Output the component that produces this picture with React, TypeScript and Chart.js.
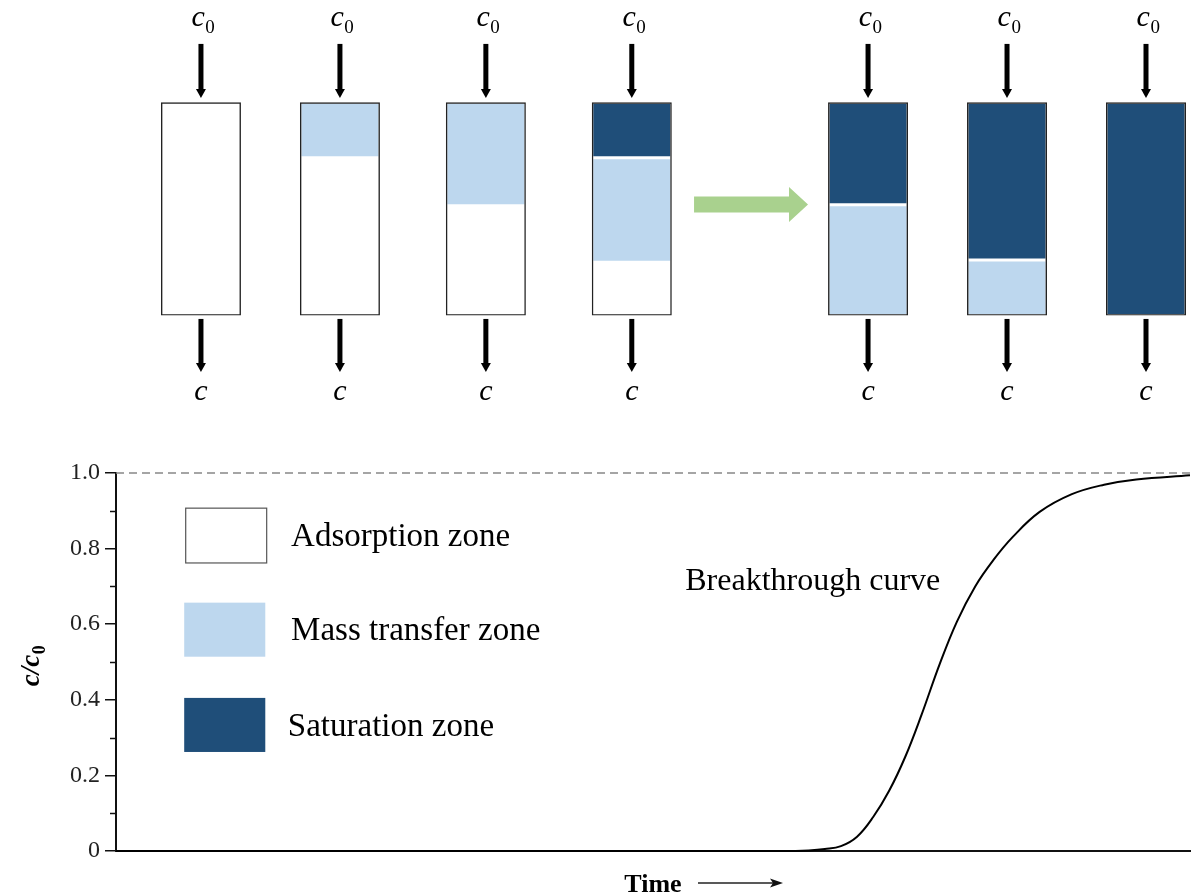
import React, { useEffect, useRef } from "react";
import { Chart, registerables } from "chart.js";

Chart.register(...registerables);

// ---------- data ----------
// column schematic (depth from column top as a fraction of column length)
const columnPositions = [1, 2, 3.05, 4.1, 5.8, 6.8, 7.8];
const saturationDepth = [0, 0, 0, 0.26, 0.48, 0.74, 1];
const transferDepth = [0, 0.26, 0.485, 0.75, 1, 1, 1];
const inletLabel = ["c", "0"];
const outletLabel = "c";

// breakthrough curve
const timeValues = [0, 62, 64.5, 66, 67.5, 69, 70.5, 72, 73.5, 75, 76.7, 78.3, 80, 81.7, 83.5, 86, 89, 92, 95, 100];
const ratioValues = [0, 0, 0.0015, 0.005, 0.013, 0.038, 0.09, 0.16, 0.25, 0.36, 0.495, 0.607, 0.7, 0.77, 0.831, 0.897, 0.944, 0.969, 0.983, 0.994];
const yTickLabels = ["0", "0.2", "0.4", "0.6", "0.8", "1.0"];
const legendLabels = ["Adsorption zone", "Mass transfer zone", "Saturation zone"];
const curveLabel = "Breakthrough curve";
const xTitle = "Time";

// ---------- styles ----------
const SERIF = '"Liberation Serif", "Times New Roman", serif';
const LIGHT = "#BDD7EE";
const DARK = "#1F4E79";
const GREEN = "#A9D18E";
const INK = "#111111";

function drawSub(ctx: CanvasRenderingContext2D, cx: number, baseline: number, main: string, sub: string, mainFont: string, subFont: string, drop: number) {
  ctx.font = mainFont;
  const w1 = ctx.measureText(main).width;
  ctx.font = subFont;
  const w2 = ctx.measureText(sub).width;
  const x0 = cx - (w1 + w2) / 2;
  ctx.textAlign = "left";
  ctx.textBaseline = "alphabetic";
  ctx.font = mainFont;
  ctx.fillText(main, x0, baseline);
  ctx.font = subFont;
  ctx.fillText(sub, x0 + w1 + 0.5, baseline + drop);
}

function downArrow(ctx: CanvasRenderingContext2D, x: number, y0: number, y1: number) {
  const head = 9;
  const half = 5;
  ctx.fillStyle = "#000";
  ctx.fillRect(x - 2.5, y0, 5, y1 - y0 - head + 1);
  ctx.beginPath();
  ctx.moveTo(x - half, y1 - head);
  ctx.lineTo(x + half, y1 - head);
  ctx.lineTo(x, y1);
  ctx.closePath();
  ctx.fill();
}

const topPlugin = {
  id: "columnDecor",
  afterDatasetsDraw(chart: any) {
    const ctx: CanvasRenderingContext2D = chart.ctx;
    const xs = chart.scales.x;
    const ys = chart.scales.y;
    ctx.save();
    columnPositions.forEach((p) => {
      const x = xs.getPixelForValue(p);
      downArrow(ctx, x, ys.getPixelForValue(-0.274), ys.getPixelForValue(-0.02));
      downArrow(ctx, x, ys.getPixelForValue(1.016), ys.getPixelForValue(1.265));
      ctx.fillStyle = "#000";
      drawSub(ctx, x + 2, ys.getPixelForValue(-0.358), inletLabel[0], inletLabel[1], `italic 30px ${SERIF}`, `19px ${SERIF}`, 7);
      ctx.font = `italic 30px ${SERIF}`;
      ctx.textAlign = "center";
      ctx.textBaseline = "alphabetic";
      ctx.fillText(outletLabel, x, ys.getPixelForValue(1.396));
    });
    // green process arrow
    const ax0 = xs.getPixelForValue(4.548);
    const ax1 = xs.getPixelForValue(5.368);
    const ay = ys.getPixelForValue(0.479);
    const headLen = 19;
    ctx.fillStyle = GREEN;
    ctx.beginPath();
    ctx.moveTo(ax0, ay - 8);
    ctx.lineTo(ax1 - headLen, ay - 8);
    ctx.lineTo(ax1 - headLen, ay - 17.5);
    ctx.lineTo(ax1, ay);
    ctx.lineTo(ax1 - headLen, ay + 17.5);
    ctx.lineTo(ax1 - headLen, ay + 8);
    ctx.lineTo(ax0, ay + 8);
    ctx.closePath();
    ctx.fill();
    ctx.restore();
  },
};

function topConfig(): any {
  const outline = columnPositions.map((x) => ({ x, y: [0, 1] }));
  const saturation = columnPositions
    .map((x, i) => ({ x, y: [0, saturationDepth[i]] }))
    .filter((d) => d.y[1] > d.y[0]);
  const transfer = columnPositions
    .map((x, i) => ({ x, y: [saturationDepth[i], transferDepth[i]] }))
    .filter((d) => d.y[1] > d.y[0]);
  const common = { grouped: false, maxBarThickness: 80, borderSkipped: false };
  return {
    type: "bar",
    data: {
      datasets: [
        { ...common, label: "column", data: outline, backgroundColor: "rgba(0,0,0,0)", borderColor: "#222", borderWidth: 1.4, order: 0 },
        { ...common, label: "Saturation zone", data: saturation, backgroundColor: DARK, borderColor: "#fff", borderWidth: 1.5, order: 1 },
        { ...common, label: "Mass transfer zone", data: transfer, backgroundColor: LIGHT, borderColor: "#fff", borderWidth: 1.5, order: 1 },
      ],
    },
    options: {
      responsive: false,
      animation: false,
      layout: { padding: 0 },
      plugins: { legend: { display: false }, tooltip: { enabled: false } },
      scales: {
        x: { type: "linear", offset: false, min: -0.446, max: 8.131, display: false },
        y: { type: "linear", reverse: true, min: -0.48, max: 1.49, display: false },
      },
    },
    plugins: [topPlugin],
  };
}

const bottomPlugin = {
  id: "plotDecor",
  afterDraw(chart: any) {
    const ctx: CanvasRenderingContext2D = chart.ctx;
    const xs = chart.scales.x;
    const ys = chart.scales.y;
    const area = chart.chartArea;
    ctx.save();
    // minor ticks
    ctx.strokeStyle = INK;
    ctx.lineWidth = 1.5;
    ys.ticks.forEach((t: any, i: number) => {
      if (i % 2 === 1) {
        const y = Math.round(ys.getPixelForValue(t.value)) + 0.5;
        ctx.beginPath();
        ctx.moveTo(area.left - 6, y);
        ctx.lineTo(area.left, y);
        ctx.stroke();
      }
    });
    // legend
    const boxes = [
      { y: [0.762, 0.907], fill: "#fff", stroke: "#555" },
      { y: [0.514, 0.657], fill: LIGHT, stroke: null },
      { y: [0.262, 0.405], fill: DARK, stroke: null },
    ];
    boxes.forEach((b, i) => {
      const x0 = xs.getPixelForValue(i === 0 ? 6.49 : 6.35);
      const x1 = xs.getPixelForValue(i === 0 ? 14.03 : 13.9);
      const y0 = ys.getPixelForValue(b.y[1]);
      const y1 = ys.getPixelForValue(b.y[0]);
      ctx.fillStyle = b.fill;
      ctx.fillRect(x0, y0, x1 - x0, y1 - y0);
      if (b.stroke) {
        ctx.strokeStyle = b.stroke;
        ctx.lineWidth = 1.2;
        ctx.strokeRect(x0, y0, x1 - x0, y1 - y0);
      }
      ctx.fillStyle = "#000";
      ctx.font = `33px ${SERIF}`;
      ctx.textAlign = "left";
      ctx.textBaseline = "middle";
      ctx.fillText(legendLabels[i], xs.getPixelForValue(i === 2 ? 16.0 : 16.3), (y0 + y1) / 2 + 2);
    });
    // curve label
    ctx.font = `32px ${SERIF}`;
    ctx.fillText(curveLabel, xs.getPixelForValue(53.0), ys.getPixelForValue(0.717) + 2);
    // y title
    ctx.save();
    ctx.translate(area.left - 86, (area.top + area.bottom) / 2 + 4);
    ctx.rotate(-Math.PI / 2);
    ctx.fillStyle = "#000";
    drawSub(ctx, 0, 9, "c/c", "0", `bold italic 27px ${SERIF}`, `bold 18px ${SERIF}`, 6);
    ctx.restore();
    // x title with arrow
    const cx = (area.left + area.right) / 2;
    ctx.font = `bold 26px ${SERIF}`;
    ctx.fillStyle = "#000";
    ctx.textAlign = "center";
    ctx.textBaseline = "alphabetic";
    ctx.fillText(xTitle, cx, area.bottom + 41);
    const ay = area.bottom + 32;
    const ax0 = cx + 45;
    const ax1 = cx + 130;
    ctx.strokeStyle = "#222";
    ctx.lineWidth = 1.5;
    ctx.beginPath();
    ctx.moveTo(ax0, ay);
    ctx.lineTo(ax1 - 6, ay);
    ctx.stroke();
    ctx.fillStyle = "#111";
    ctx.beginPath();
    ctx.moveTo(ax1, ay);
    ctx.lineTo(ax1 - 13, ay - 4.5);
    ctx.lineTo(ax1 - 10, ay);
    ctx.lineTo(ax1 - 13, ay + 4.5);
    ctx.closePath();
    ctx.fill();
    ctx.restore();
  },
};

function bottomConfig(): any {
  const curve = timeValues.map((t, i) => ({ x: t, y: ratioValues[i] }));
  const full = [
    { x: timeValues[0], y: 1 },
    { x: timeValues[timeValues.length - 1], y: 1 },
  ];
  return {
    type: "line",
    data: {
      datasets: [
        { label: "Breakthrough curve", data: curve, borderColor: "#000", borderWidth: 2, pointRadius: 0, tension: 0.4, fill: false, clip: false },
        { label: "c0", data: full, borderColor: "#888", borderWidth: 1.5, borderDash: [8, 5], pointRadius: 0, fill: false, clip: false },
      ],
    },
    options: {
      responsive: false,
      animation: false,
      layout: { padding: { left: 0, right: 2, top: 33, bottom: 0 } },
      plugins: { legend: { display: false }, tooltip: { enabled: false } },
      scales: {
        x: {
          type: "linear",
          min: 0,
          max: 100,
          ticks: { display: false },
          grid: { display: false },
          border: { display: true, width: 2, color: INK },
          afterFit: (s: any) => {
            s.height = 45;
          },
        },
        y: {
          type: "linear",
          min: 0,
          max: 1,
          ticks: {
            stepSize: 0.1,
            autoSkip: false,
            padding: 5,
            color: "#222",
            font: { family: SERIF, size: 24 },
            callback: (_v: any, i: number) => (i % 2 === 0 ? yTickLabels[i / 2] : ""),
          },
          grid: {
            drawOnChartArea: false,
            drawTicks: true,
            tickLength: 11,
            lineWidth: 1.5,
            color: (c: any) => (c.index % 2 === 0 ? INK : "rgba(0,0,0,0)"),
            tickColor: (c: any) => (c.index % 2 === 0 ? INK : "rgba(0,0,0,0)"),
          },
          border: { display: true, width: 2, color: INK },
          afterFit: (s: any) => {
            s.width = 116;
          },
        },
      },
    },
    plugins: [bottomPlugin],
  };
}

export default function App() {
  const topRef = useRef<HTMLCanvasElement>(null);
  const botRef = useRef<HTMLCanvasElement>(null);
  useEffect(() => {
    const c1 = new Chart(topRef.current as HTMLCanvasElement, topConfig());
    const c2 = new Chart(botRef.current as HTMLCanvasElement, bottomConfig());
    return () => {
      c1.destroy();
      c2.destroy();
    };
  }, []);
  return (
    <div style={{ position: "fixed", left: 0, top: 0, width: 1192, height: 896, background: "#fff" }}>
      <canvas ref={topRef} width={1192} height={420} style={{ position: "absolute", left: 0, top: 0, width: 1192, height: 420 }} />
      <canvas ref={botRef} width={1192} height={456} style={{ position: "absolute", left: 0, top: 440, width: 1192, height: 456 }} />
    </div>
  );
}
